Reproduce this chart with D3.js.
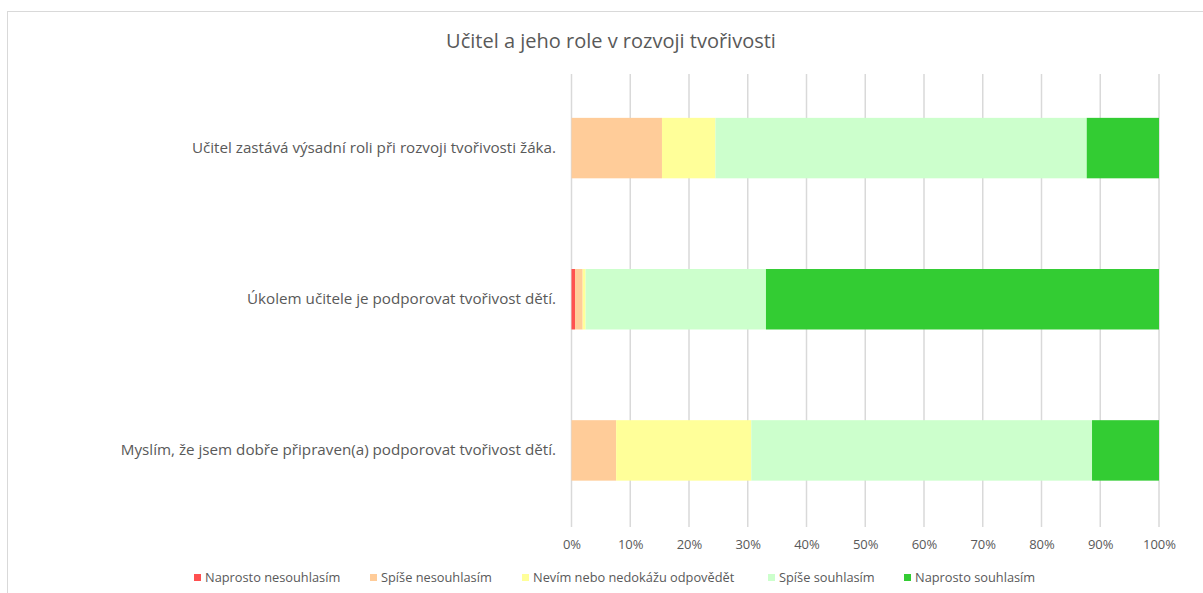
<!DOCTYPE html>
<html>
<head>
<meta charset="utf-8">
<script src="https://cdn.jsdelivr.net/npm/d3@7"></script>
<style>
  html, body { margin: 0; padding: 0; background: #fff; }
  svg { display: block; }
  text { font-family: "Open Sans", "Noto Sans", sans-serif; }
</style>
</head>
<body>
<svg id="chart" width="1203" height="593"></svg>
<script>
const title = "Učitel a jeho role v rozvoji tvořivosti";
const categories = [
  "Učitel zastává výsadní roli při rozvoji tvořivosti žáka.",
  "Úkolem učitele je podporovat tvořivost dětí.",
  "Myslím, že jsem dobře připraven(a) podporovat tvořivost dětí."
];
const seriesNames = ["Naprosto nesouhlasím", "Spíše nesouhlasím", "Nevím nebo nedokážu odpovědět", "Spíše souhlasím", "Naprosto souhlasím"];
const seriesColors = ["#FF5050", "#FFCC99", "#FFFF99", "#CCFFCC", "#33CC33"];
// percentage values per series, in category order
const naprostoNesouhlasim = [0, 0.6, 0];
const spiseNesouhlasim = [15.4, 1.3, 7.6];
const nevim = [9.1, 0.5, 23.0];
const spiseSouhlasim = [63.2, 30.7, 58.0];
const naprostoSouhlasim = [12.3, 66.9, 11.4];
const tickValues = [0, 10, 20, 30, 40, 50, 60, 70, 80, 90, 100];

const seriesValues = [naprostoNesouhlasim, spiseNesouhlasim, nevim, spiseSouhlasim, naprostoSouhlasim];
const rows = categories.map((c, i) => {
  const r = { category: c };
  seriesNames.forEach((s, j) => r[s] = seriesValues[j][i]);
  return r;
});

const svg = d3.select("#chart");
// outer border
svg.append("rect").attr("x", 7.5).attr("y", 11.5).attr("width", 1200).attr("height", 600)
  .attr("fill", "#fff").attr("stroke", "#d9d9d9").attr("stroke-width", 1);

const x = d3.scaleLinear().domain([0, 100]).range([571.5, 1159]);
const y = d3.scaleBand().domain(categories).range([72.5, 526]).paddingInner(0.6).paddingOuter(0.3);

// title
svg.append("text").attr("x", 611).attr("y", 48).attr("text-anchor", "middle")
  .attr("font-size", 20).attr("fill", "#595959").text(title);

// gridlines
svg.append("g").selectAll("line").data(tickValues).join("line")
  .attr("x1", d => x(d)).attr("x2", d => x(d)).attr("y1", 74).attr("y2", 527)
  .attr("stroke", "#d9d9d9").attr("stroke-width", 1.5);

// stacked bars
const stack = d3.stack().keys(seriesNames);
const stacked = stack(rows);
svg.append("g").selectAll("g").data(stacked).join("g")
  .attr("fill", (d, i) => seriesColors[i])
  .selectAll("rect").data(d => d).join("rect")
  .attr("x", d => x(d[0])).attr("width", d => Math.max(0, x(d[1]) - x(d[0])))
  .attr("y", d => y(d.data.category)).attr("height", y.bandwidth());

// x axis labels
const xAxis = d3.axisBottom(x).tickValues(tickValues).tickFormat(d => d + "%").tickSize(0);
const gx = svg.append("g").attr("transform", "translate(0,537)").call(xAxis);
gx.select(".domain").remove();
gx.selectAll("text").attr("font-size", 13).attr("fill", "#595959")
  .attr("font-family", "\"Open Sans\", sans-serif");

// category labels
const yAxis = d3.axisLeft(y).tickSize(0).tickPadding(0);
const gy = svg.append("g").attr("transform", "translate(556,0)").call(yAxis);
gy.select(".domain").remove();
gy.selectAll("text").attr("font-size", 15.2).attr("fill", "#595959")
  .attr("font-family", "\"Open Sans\", sans-serif");

// legend
const legendX = [194, 370, 522, 768, 904];
const lg = svg.append("g").selectAll("g").data(seriesNames).join("g")
  .attr("transform", (d, i) => `translate(${legendX[i]},578)`);
lg.append("rect").attr("x", 0).attr("y", -4).attr("width", 7).attr("height", 7)
  .attr("fill", (d, i) => seriesColors[i]);
lg.append("text").attr("x", 11).attr("y", 0).attr("dy", "0.35em")
  .attr("font-size", 12.8).attr("fill", "#595959").text(d => d);
</script>
</body>
</html>
